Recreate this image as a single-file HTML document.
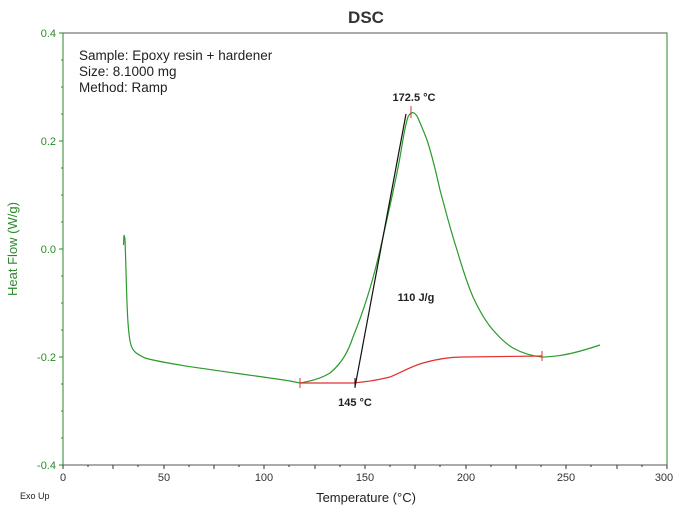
<!DOCTYPE html><html><head><style>body{margin:0;background:#fff}svg{font-family:"Liberation Sans",sans-serif}</style></head><body>
<svg width="683" height="512" viewBox="0 0 683 512">
<text x="366" y="23" font-size="17" font-weight="bold" text-anchor="middle" fill="#333">DSC</text>
<rect x="63" y="33" width="604" height="432" fill="none" stroke="#555" stroke-width="1"/>
<line x1="63" y1="33" x2="63" y2="465" stroke="#2a8a2a"/>
<line x1="667" y1="33" x2="667" y2="465" stroke="#2a8a2a"/>
<g stroke="#333">
<path d="M63 465v4M113 465v4M164 465v4M214 465v4M264 465v4M315 465v4M365 465v4M415 465v4M466 465v4M516 465v4M566 465v4M617 465v4M667 465v4"/>
<path d="M88 465v2M138 465v2M189 465v2M239 465v2M289 465v2M340 465v2M390 465v2M440 465v2M491 465v2M541 465v2M591 465v2M642 465v2"/>
</g>
<g stroke="#2a8a2a">
<path d="M59 33h4M59 141h4M59 249h4M59 357h4M59 465h4"/>
<path d="M61 60h2M61 87h2M61 114h2M61 168h2M61 195h2M61 222h2M61 276h2M61 303h2M61 330h2M61 384h2M61 411h2M61 438h2"/>
</g>
<g font-size="11" fill="#2a8a2a" text-anchor="end">
<text x="56" y="37">0.4</text><text x="56" y="145">0.2</text><text x="56" y="253">0.0</text><text x="56" y="361">-0.2</text><text x="56" y="469">-0.4</text></g>
<g font-size="11" fill="#333" text-anchor="middle">
<text x="63" y="481">0</text><text x="164" y="481">50</text><text x="264" y="481">100</text><text x="365" y="481">150</text><text x="466" y="481">200</text><text x="566" y="481">250</text><text x="664" y="481">300</text></g>
<text x="366" y="502" font-size="13" text-anchor="middle" fill="#222">Temperature (°C)</text>
<text x="20" y="499" font-size="9" fill="#222">Exo Up</text>
<text transform="translate(17,249) rotate(-90)" font-size="13" text-anchor="middle" fill="#2a8a2a">Heat Flow (W/g)</text>
<g font-size="13.5" fill="#222"><text x="79" y="60">Sample: Epoxy resin + hardener</text><text x="79" y="76">Size: 8.1000 mg</text><text x="79" y="92">Method: Ramp</text></g>
<path d="M123.5 245 L124 235 L125 239 L126 270 C127 310 128 335 131 345 C133 352 137 354 145 358 C170 365 230 372 290 381 L300 383 C312 381 322 378 330 373 C342 363 348 352 353 337 C362 315 372 285 380 250 C388 215 395 185 400 157 C403 140 405 125 408 117 C410 113 412 112 414 113 C416 114 417 116 418 118 C421 125 424 132 427 140 C432 155 436 172 440 190 C446 212 451 232 457 250 C462 267 467 283 473 297 C479 310 486 322 493 330 C500 338 506 344 513 348 C522 353 532 356 542 357 C550 357 556 356 563 355 C575 353 588 349 600 345" fill="none" stroke="#2a9a2a" stroke-width="1.2"/>
<path d="M300 383 L353 383 C365 382 378 380 390 377 C402 372 412 366 423 363 C437 359 450 357 463 357 L542 356" fill="none" stroke="#e03030" stroke-width="1.2"/>
<path d="M300 378v10M542 351v10M411 106v12" stroke="#e03030"/>
<line x1="355" y1="387" x2="406" y2="114" stroke="#111" stroke-width="1.2"/>
<path d="M355 378v10" stroke="#111"/>
<g font-size="11" font-weight="bold" fill="#222" text-anchor="middle">
<text x="414" y="101">172.5 °C</text><text x="355" y="406">145 °C</text><text x="416" y="301">110 J/g</text></g>
</svg></body></html>
